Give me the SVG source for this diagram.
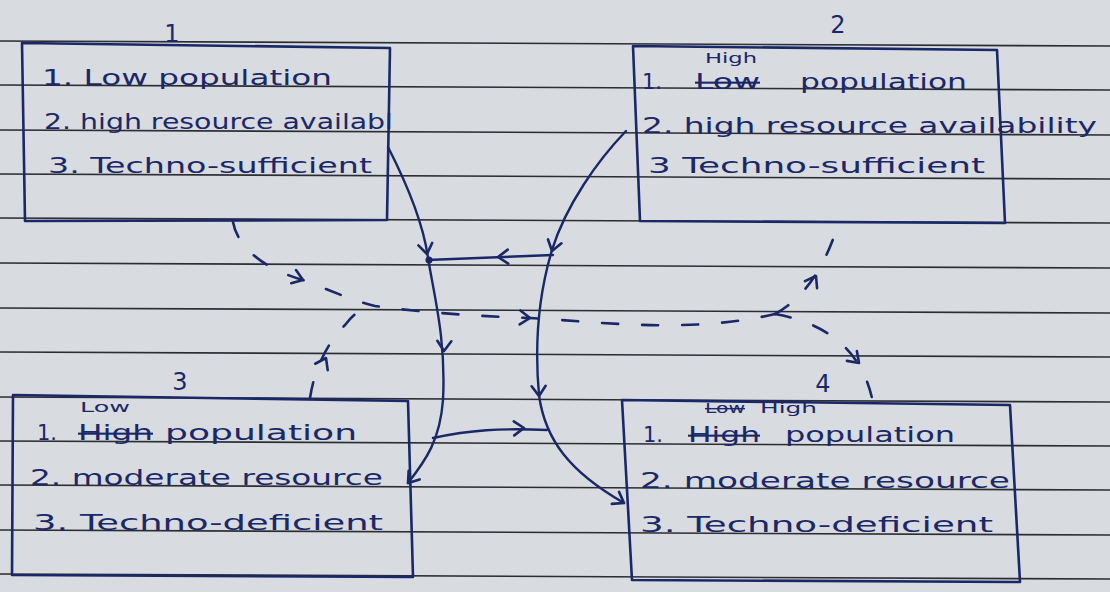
<svg xmlns="http://www.w3.org/2000/svg" xmlns:xlink="http://www.w3.org/1999/xlink" width="1110" height="592" viewBox="0 0 1110 592">
<style>
  .paper { fill: #d8dbdf; }
  .rule { stroke: #2b2d33; stroke-width: 1.6; fill: none; }
  .box { fill: none; stroke: #1b2868; stroke-width: 2.6; stroke-linejoin: round; }
  .t { font-family: "DejaVu Sans", "Liberation Sans", sans-serif; font-size: 21px; fill: #1b2868; }
  .s { font-family: "DejaVu Sans", "Liberation Sans", sans-serif; font-size: 14px; fill: #1b2868; }
  .lbl { font-family: "DejaVu Sans", "Liberation Sans", sans-serif; font-size: 24px; fill: #1b2868; }
  .strike { text-decoration: line-through; }
  .conn { fill: none; stroke: #1b2868; stroke-width: 2.4; stroke-linecap: round; }
  .dash { fill: none; stroke: #1b2868; stroke-width: 2.6; stroke-dasharray: 16 24; stroke-linecap: round; }
  .head { fill: none; stroke: #1b2868; stroke-width: 2.6; stroke-linecap: round; stroke-linejoin: round; }
</style>
<defs>
  <path id="chev" d="M-10,-7 L0,0 L-10,7"/>
</defs>
<rect class="paper" x="0" y="0" width="1110" height="592"/>
<g id="rules">
  <path class="rule" d="M0,41 L1110,46"/>
  <path class="rule" d="M0,85 L1110,90"/>
  <path class="rule" d="M0,130 L1110,135"/>
  <path class="rule" d="M0,174 L1110,179"/>
  <path class="rule" d="M0,218 L1110,223"/>
  <path class="rule" d="M0,263 L1110,268"/>
  <path class="rule" d="M0,308 L1110,313"/>
  <path class="rule" d="M0,352 L1110,357"/>
  <path class="rule" d="M0,397 L1110,402"/>
  <path class="rule" d="M0,441 L1110,446"/>
  <path class="rule" d="M0,485 L1110,490"/>
  <path class="rule" d="M0,530 L1110,535"/>
  <path class="rule" d="M0,574 L1110,579"/>
</g>
<g id="node1">
  <path class="box" d="M22,43 L390,48 L387,220 L25,221 Z"/>
  <text class="lbl" x="172" y="42" text-anchor="middle">1</text>
  <text class="t" x="42" y="85" textLength="290" lengthAdjust="spacingAndGlyphs">1. Low population</text>
  <text class="t" x="44" y="129" textLength="349" lengthAdjust="spacingAndGlyphs">2. high resource availabl</text>
  <text class="t" x="48" y="173" textLength="324" lengthAdjust="spacingAndGlyphs">3. Techno-sufficient</text>
</g>
<g id="node2">
  <path class="box" d="M633,46 L997,50 L1005,223 L640,221 Z"/>
  <text class="lbl" x="838" y="33" text-anchor="middle">2</text>
  <text class="s" x="705" y="63" textLength="52" lengthAdjust="spacingAndGlyphs">High</text>
  <text class="t" x="642" y="89">1.</text>
  <text class="t strike" x="695" y="89" textLength="65" lengthAdjust="spacingAndGlyphs">Low</text>
  <text class="t" x="800" y="89" textLength="167" lengthAdjust="spacingAndGlyphs">population</text>
  <text class="t" x="642" y="133" textLength="455" lengthAdjust="spacingAndGlyphs">2. high resource availability</text>
  <text class="t" x="648" y="173" textLength="337" lengthAdjust="spacingAndGlyphs">3 Techno-sufficient</text>
</g>
<g id="node3">
  <path class="box" d="M13,395 L408,401 L413,577 L12,575 Z"/>
  <text class="lbl" x="180" y="390" text-anchor="middle">3</text>
  <text class="s" x="80" y="412" textLength="50" lengthAdjust="spacingAndGlyphs">Low</text>
  <text class="t" x="37" y="440">1.</text>
  <text class="t strike" x="78" y="440" textLength="75" lengthAdjust="spacingAndGlyphs">High</text>
  <text class="t" x="165" y="440" textLength="192" lengthAdjust="spacingAndGlyphs">population</text>
  <text class="t" x="30" y="485" textLength="353" lengthAdjust="spacingAndGlyphs">2. moderate resource</text>
  <text class="t" x="33" y="530" textLength="350" lengthAdjust="spacingAndGlyphs">3. Techno-deficient</text>
</g>
<g id="node4">
  <path class="box" d="M622,400 L1010,405 L1020,582 L632,580 Z"/>
  <text class="lbl" x="823" y="392" text-anchor="middle">4</text>
  <text class="s strike" x="705" y="413" textLength="40" lengthAdjust="spacingAndGlyphs">Low</text>
  <text class="s" x="760" y="413" textLength="57" lengthAdjust="spacingAndGlyphs">High</text>
  <text class="t" x="643" y="442">1.</text>
  <text class="t strike" x="688" y="442" textLength="72" lengthAdjust="spacingAndGlyphs">High</text>
  <text class="t" x="785" y="442" textLength="170" lengthAdjust="spacingAndGlyphs">population</text>
  <text class="t" x="640" y="488" textLength="370" lengthAdjust="spacingAndGlyphs">2. moderate resource</text>
  <text class="t" x="640" y="532" textLength="353" lengthAdjust="spacingAndGlyphs">3. Techno-deficient</text>
</g>
<g id="connectors">
  <path class="conn" d="M388,147 C410,190 424,228 428,258 C435,300 446,340 443,400 C440,440 426,460 408,483"/>
  <path class="conn" d="M553,255 L427,260"/>
  <circle cx="429" cy="260" r="3.5" fill="#1b2868"/>
  <path class="conn" d="M626,131 C598,160 566,205 552,250 C540,290 534,340 539,395 C545,440 570,472 624,503"/>
  <path class="conn" d="M433,438 C470,430 500,428 547,430"/>
  <use href="#chev" class="head" transform="translate(427,254) rotate(80)"/>
  <use href="#chev" class="head" transform="translate(444,351) rotate(92)"/>
  <use href="#chev" class="head" transform="translate(408,483) rotate(128)"/>
  <use href="#chev" class="head" transform="translate(498,257) rotate(178)"/>
  <use href="#chev" class="head" transform="translate(552,251) rotate(106)"/>
  <use href="#chev" class="head" transform="translate(539,396) rotate(88)"/>
  <use href="#chev" class="head" transform="translate(624,503) rotate(31)"/>
  <use href="#chev" class="head" transform="translate(524,428) rotate(-2)"/>
  <path class="dash" d="M233,222 C238,250 268,270 303,280 C330,290 350,300 375,306 C420,312 470,316 530,318 C600,322 690,334 775,314"/>
  <path class="dash" d="M310,398 C315,365 330,340 345,325 C355,312 365,306 375,306"/>
  <path class="dash" d="M775,314 C800,300 822,275 838,225"/>
  <path class="dash" d="M775,314 C820,322 862,345 873,403"/>
  <use href="#chev" class="head" transform="translate(303,280) rotate(20)"/>
  <use href="#chev" class="head" transform="translate(530,318) rotate(3)"/>
  <use href="#chev" class="head" transform="translate(326,358) rotate(-63)"/>
  <use href="#chev" class="head" transform="translate(816,276) rotate(-60)"/>
  <use href="#chev" class="head" transform="translate(859,363) rotate(45)"/>
</g>
</svg>
